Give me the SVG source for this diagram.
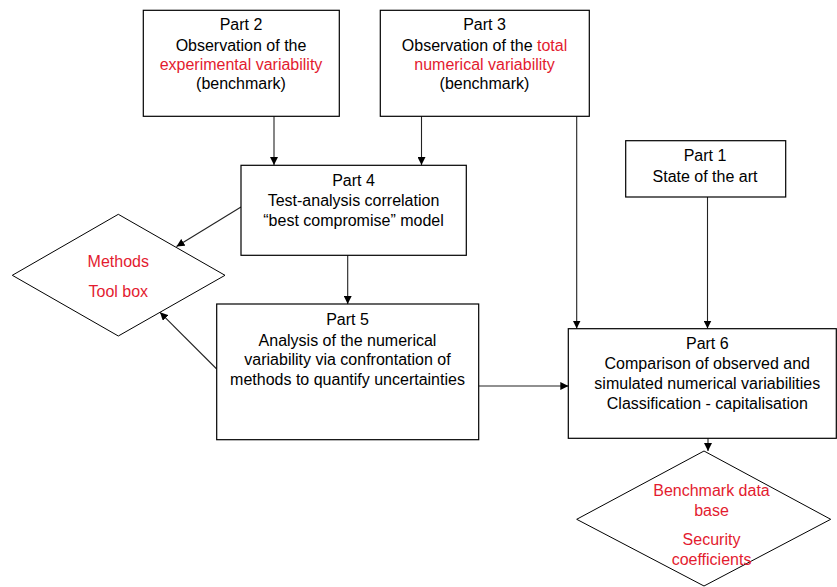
<svg xmlns="http://www.w3.org/2000/svg" width="837" height="587" viewBox="0 0 837 587">
<defs>
<style>
.box{fill:#fff;stroke:#000;stroke-width:1.2}
.dia{fill:#fff;stroke:#000;stroke-width:1}
.t{font-family:"Liberation Sans",Arial,sans-serif;font-size:16px;fill:#000;text-anchor:middle}
.r{fill:#e31b2f}
.c{fill:none;stroke:#222;stroke-width:1.1;marker-end:url(#ah)}
</style>
<marker id="ah" viewBox="0 0 10 10" refX="10" refY="5" markerWidth="8" markerHeight="8" markerUnits="userSpaceOnUse" orient="auto">
<path d="M0,0 L10,5 L0,10 z" fill="#000"/>
</marker>
</defs>
<rect width="837" height="587" fill="#fff"/>
<g id="connectors">
<line class="c" x1="274" y1="116" x2="274" y2="165"/>
<line class="c" x1="421.5" y1="116" x2="421.5" y2="165"/>
<line class="c" x1="576.7" y1="116" x2="576.7" y2="328.5"/>
<line class="c" x1="707.5" y1="197" x2="707.5" y2="328.5"/>
<line class="c" x1="347.7" y1="255" x2="347.7" y2="304"/>
<line class="c" x1="241" y1="207" x2="176.5" y2="246.5"/>
<line class="c" x1="216.7" y1="369" x2="160" y2="312.3"/>
<line class="c" x1="478.7" y1="386" x2="568.3" y2="386"/>
<line class="c" x1="708" y1="436" x2="708" y2="451"/>
</g>
<g id="part2">
<rect class="box" x="143.3" y="10.3" width="196" height="106"/>
<text class="t" x="241" y="30">Part 2</text>
<text class="t" x="241" y="51">Observation of the</text>
<text class="t r" x="241" y="70">experimental variability</text>
<text class="t" x="241" y="89">(benchmark)</text>
</g>
<g id="part3">
<rect class="box" x="380.3" y="10.3" width="209" height="106"/>
<text class="t" x="484.5" y="30">Part 3</text>
<text class="t" x="484.5" y="51">Observation of the <tspan class="r">total</tspan></text>
<text class="t r" x="484.5" y="70">numerical variability</text>
<text class="t" x="484.5" y="89">(benchmark)</text>
</g>
<g id="part4">
<rect class="box" x="241" y="165.3" width="225.3" height="90"/>
<text class="t" x="353.5" y="186">Part 4</text>
<text class="t" x="353.5" y="206">Test-analysis correlation</text>
<text class="t" x="353.5" y="226">“best compromise” model</text>
</g>
<g id="part1">
<rect class="box" x="625.7" y="140.7" width="160" height="56.3"/>
<text class="t" x="705" y="161">Part 1</text>
<text class="t" x="705" y="181.5">State of the art</text>
</g>
<g id="methods">
<polygon class="dia" points="12.3,275.3 118.3,214.3 225,275.3 118.3,336"/>
<text class="t r" x="118.3" y="267">Methods</text>
<text class="t r" x="118.3" y="296.5">Tool box</text>
</g>
<g id="part5">
<rect class="box" x="216.7" y="304" width="262" height="135.7"/>
<text class="t" x="347.5" y="324.5">Part 5</text>
<text class="t" x="347.5" y="346">Analysis of the numerical</text>
<text class="t" x="347.5" y="365">variability via confrontation of</text>
<text class="t" x="347.5" y="385">methods to quantify uncertainties</text>
</g>
<g id="part6">
<rect class="box" x="568.3" y="328.7" width="268" height="109.6"/>
<text class="t" x="707.3" y="349">Part 6</text>
<text class="t" x="707.3" y="369">Comparison of observed and</text>
<text class="t" x="707.3" y="389">simulated numerical variabilities</text>
<text class="t" x="707.3" y="408.5">Classification - capitalisation</text>
</g>
<g id="benchmark">
<polygon class="dia" points="576.7,519.3 704,451 830.7,519.3 704,586"/>
<text class="t r" x="711.5" y="496">Benchmark data</text>
<text class="t r" x="711.5" y="515.5">base</text>
<text class="t r" x="711.5" y="545">Security</text>
<text class="t r" x="711.5" y="565">coefficients</text>
</g>
</svg>
